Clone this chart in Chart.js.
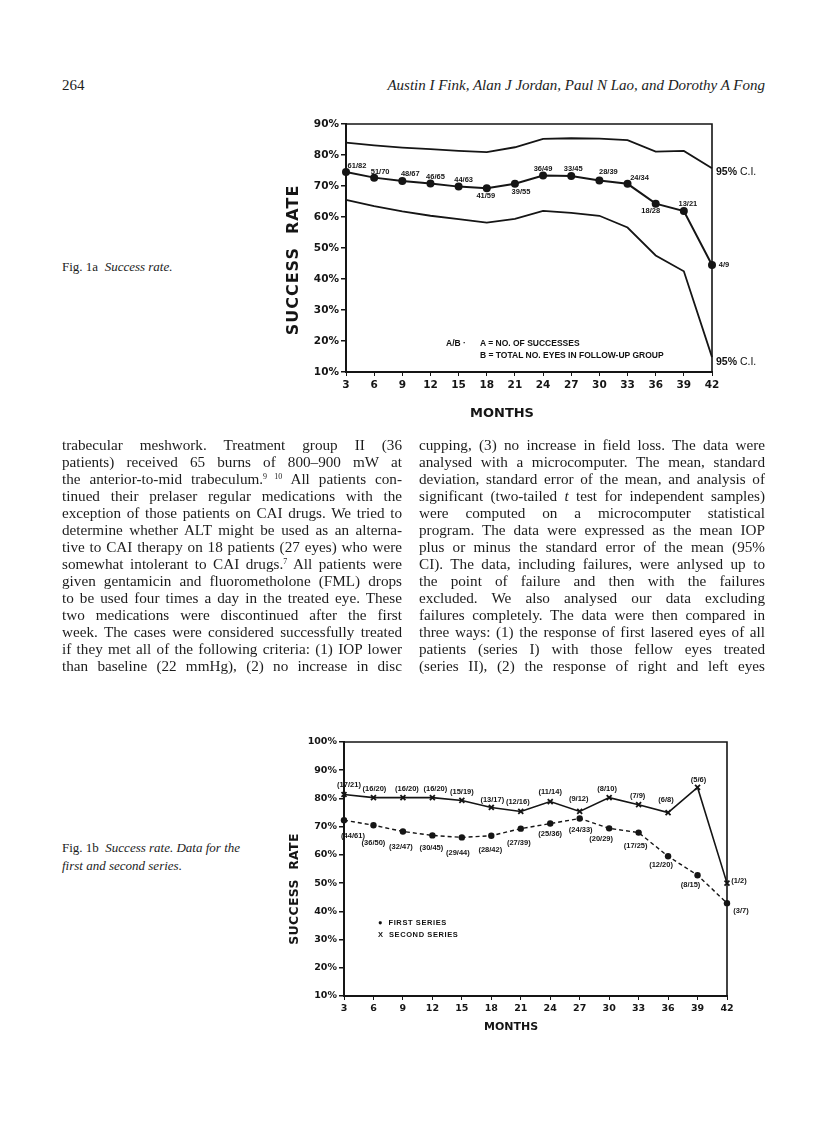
<!DOCTYPE html>
<html>
<head>
<meta charset="utf-8">
<script src="https://cdn.jsdelivr.net/npm/chart.js@4.4.0/dist/chart.umd.min.js"></script>
<style>
  body { margin: 0; background: #fff; width: 816px; height: 1135px; position: relative; overflow: hidden;
         font-family: "Liberation Serif", serif; color: #1c1c1c; }
  .abs { position: absolute; }
  .col { position: absolute; font-size: 15.2px; }
  .col div { height: 17px; line-height: 17px; overflow: hidden; text-align: justify; text-align-last: justify; }
  sup { font-size: 8px; line-height: 0; vertical-align: 5px; }
  .cap { font-size: 13px; line-height: 18px; }
  .lab { font-family: "Liberation Sans", sans-serif; font-weight: bold; color: #111; white-space: nowrap; }
  .axt { position: absolute; font-family: "DejaVu Sans", sans-serif; font-weight: bold; color: #151515; white-space: nowrap;
         transform: translate(-50%, -50%); }
  .axt.v { transform: translate(-50%, -50%) rotate(-90deg); }
  .chartbox { position: absolute; }
</style>
</head>
<body>

<div class="abs" style="left:62px;top:77px;font-size:15px;">264</div>
<div class="abs" style="right:51px;top:77px;font-size:15px;font-style:italic;">Austin I Fink, Alan J Jordan, Paul N Lao, and Dorothy A Fong</div>

<div class="abs cap" style="left:62px;top:258px;">Fig. 1a&nbsp;&nbsp;<i>Success rate.</i></div>
<div class="abs cap" style="left:62px;top:839px;">Fig. 1b&nbsp;&nbsp;<i>Success rate. Data for the<br>first and second series.</i></div>

<div class="chartbox" style="left:250px;top:110px;width:540px;height:320px;"><canvas id="fig1a"></canvas></div>
<div class="chartbox" style="left:250px;top:720px;width:540px;height:330px;"><canvas id="fig1b"></canvas></div>

<!-- axis titles -->
<div class="axt v" style="left:292px;top:260px;font-size:16px;letter-spacing:1px;">SUCCESS&nbsp; RATE</div>
<div class="axt" style="left:502px;top:412px;font-size:13px;">MONTHS</div>
<div class="axt v" style="left:293px;top:889px;font-size:12.5px;letter-spacing:0.3px;">SUCCESS&nbsp; RATE</div>
<div class="axt" style="left:511px;top:1026px;font-size:11px;">MONTHS</div>

<!-- fig 1a annotations -->
<div class="abs lab" style="left:716px;top:165px;font-size:10.5px;font-weight:normal;"><b>95%</b> C.I.</div>
<div class="abs lab" style="left:716px;top:355px;font-size:10.5px;font-weight:normal;"><b>95%</b> C.I.</div>
<div class="abs lab" style="left:446px;top:338px;font-size:8.5px;">A/B ·</div>
<div class="abs lab" style="left:480px;top:338px;font-size:8.5px;">A = NO. OF SUCCESSES</div>
<div class="abs lab" style="left:480px;top:350px;font-size:8.5px;">B = TOTAL NO. EYES IN FOLLOW-UP GROUP</div>

<!-- fig 1b legend -->
<div class="abs lab" style="left:378px;top:918px;font-size:7.5px;letter-spacing:0.6px;">●&nbsp; FIRST SERIES</div>
<div class="abs lab" style="left:378px;top:930px;font-size:7.5px;letter-spacing:0.6px;">X&nbsp; SECOND SERIES</div>

<div class="col" style="left:62px;top:436px;width:340px;">
  <div>trabecular meshwork. Treatment group II (36</div>
  <div>patients) received 65 burns of 800–900 mW at</div>
  <div>the anterior-to-mid trabeculum.<sup>9 10</sup> All patients con-</div>
  <div>tinued their prelaser regular medications with the</div>
  <div>exception of those patients on CAI drugs. We tried to</div>
  <div>determine whether ALT might be used as an alterna-</div>
  <div>tive to CAI therapy on 18 patients (27 eyes) who were</div>
  <div>somewhat intolerant to CAI drugs.<sup>7</sup> All patients were</div>
  <div>given gentamicin and fluorometholone (FML) drops</div>
  <div>to be used four times a day in the treated eye. These</div>
  <div>two medications were discontinued after the first</div>
  <div>week. The cases were considered successfully treated</div>
  <div>if they met all of the following criteria: (1) IOP lower</div>
  <div>than baseline (22 mmHg), (2) no increase in disc</div>
</div>

<div class="col" style="left:419px;top:436px;width:346px;">
  <div>cupping, (3) no increase in field loss. The data were</div>
  <div>analysed with a microcomputer. The mean, standard</div>
  <div>deviation, standard error of the mean, and analysis of</div>
  <div>significant (two-tailed <i>t</i> test for independent samples)</div>
  <div>were computed on a microcomputer statistical</div>
  <div>program. The data were expressed as the mean IOP</div>
  <div>plus or minus the standard error of the mean (95%</div>
  <div>CI). The data, including failures, were anlysed up to</div>
  <div>the point of failure and then with the failures</div>
  <div>excluded. We also analysed our data excluding</div>
  <div>failures completely. The data were then compared in</div>
  <div>three ways: (1) the response of first lasered eyes of all</div>
  <div>patients (series I) with those fellow eyes treated</div>
  <div>(series II), (2) the response of right and left eyes</div>
</div>

<script>
// months of follow-up (both figures)
const months = [3, 6, 9, 12, 15, 18, 21, 24, 27, 30, 33, 36, 39, 42];

// fig 1a: success rate (%) with 95% CI
const meanRate = [74.5, 72.7, 71.6, 70.8, 69.8, 69.3, 70.7, 73.4, 73.2, 71.8, 70.7, 64.3, 61.9, 44.5];
const upperCI = [84.0, 83.1, 82.4, 81.9, 81.3, 80.9, 82.5, 85.2, 85.4, 85.3, 84.8, 81.1, 81.3, 75.7];
const lowerCI = [65.5, 63.5, 61.8, 60.4, 59.3, 58.2, 59.4, 62.0, 61.3, 60.4, 56.6, 47.6, 42.5, 14.8];
const ratioA = ["61/82", "51/70", "48/67", "46/65", "44/63", "41/59", "39/55", "36/49", "33/45", "28/39", "24/34", "18/28", "13/21", "4/9"];
const yTicksA = [10, 20, 30, 40, 50, 60, 70, 80, 90];

// fig 1b: first and second series
const firstSeries = [72.3, 70.5, 68.3, 66.9, 66.2, 66.8, 69.3, 71.1, 72.9, 69.4, 67.9, 59.5, 52.8, 42.9];
const secondSeries = [81.4, 80.3, 80.3, 80.3, 79.3, 76.8, 75.4, 78.9, 75.4, 80.3, 77.8, 75.0, 83.9, 50.0];
const firstLabels = ["(44/61)", "(36/50)", "(32/47)", "(30/45)", "(29/44)", "(28/42)", "(27/39)", "(25/36)", "(24/33)", "(20/29)", "(17/25)", "(12/20)", "(8/15)", "(3/7)"];
const secondLabels = ["(17/21)", "(16/20)", "(16/20)", "(16/20)", "(15/19)", "(13/17)", "(12/16)", "(11/14)", "(9/12)", "(8/10)", "(7/9)", "(6/8)", "(5/6)", "(1/2)"];
const yTicksB = [10, 20, 30, 40, 50, 60, 70, 80, 90, 100];

// where each little label sits relative to its point (px)
const offsA = [[11,-6],[6,-6],[8,-7],[5,-7],[5,-7],[-1,8],[6,8],[0,-7],[2,-7],[9,-8],[12,-6],[-5,7],[4,-7],[12,0]];
const offsFirst = [[9,16],[0,18],[-2,15],[-1,13],[-4,16],[-1,14],[-2,14],[0,10],[1,11],[-8,11],[-3,13],[-7,9],[-7,10],[14,8]];
const offsSecond = [[5,-10],[1,-9],[4,-9],[3,-9],[0,-8],[1,-8],[-3,-9],[0,-10],[-1,-12],[-2,-9],[-1,-9],[-2,-13],[1,-8],[12,-2]];

const ink = "#151515";
const xy = (ys) => months.map((m, i) => ({ x: m, y: ys[i] }));

// top and right edge of the plot box
const frameBox = {
  id: "frameBox",
  afterDraw(chart) {
    const { left, top, right, bottom } = chart.chartArea;
    const ctx = chart.ctx;
    ctx.save();
    ctx.strokeStyle = ink;
    ctx.lineWidth = 1.6;
    ctx.beginPath();
    ctx.moveTo(left, top);
    ctx.lineTo(right, top);
    ctx.lineTo(right, bottom);
    ctx.stroke();
    ctx.restore();
  },
};

// ratio labels next to the points
const pointLabels = {
  id: "pointLabels",
  afterDatasetsDraw(chart, args, opts) {
    const ctx = chart.ctx;
    ctx.save();
    ctx.font = opts.font;
    ctx.fillStyle = ink;
    ctx.textAlign = "center";
    ctx.textBaseline = "middle";
    opts.sets.forEach((s) => {
      const meta = chart.getDatasetMeta(s.dataset);
      meta.data.forEach((pt, i) => {
        ctx.fillText(s.labels[i], pt.x + s.offsets[i][0], pt.y + s.offsets[i][1]);
      });
    });
    ctx.restore();
  },
};

// axis titles are placed as page text (they sit off-centre in the original)
function axes(o) {
  return {
    x: {
      type: "linear", min: 3, max: 42,
      afterBuildTicks: (s) => { s.ticks = months.map((v) => ({ value: v })); },
      ticks: { font: { family: "DejaVu Sans", weight: "bold", size: o.tick }, color: ink, padding: 3, autoSkip: false, maxRotation: 0,
               callback: (v) => String(v) },
      grid: { drawOnChartArea: false, tickLength: 4, color: ink },
      border: { color: ink, width: 2 },
      afterFit: (s) => { s.height = o.xHeight; },
    },
    y: {
      min: 10, max: o.yMax,
      afterBuildTicks: (s) => { s.ticks = o.yTicks.map((v) => ({ value: v })); },
      ticks: { font: { family: "DejaVu Sans", weight: "bold", size: o.tick }, color: ink, padding: 2, callback: (v) => v + "%" },
      grid: { drawOnChartArea: false, tickLength: 5, color: ink, lineWidth: 1.5 },
      border: { color: ink, width: 2 },
      afterFit: (s) => { s.width = o.yWidth; },
    },
  };
}

new Chart(document.getElementById("fig1a"), {
  type: "line",
  data: {
    datasets: [
      { data: xy(upperCI), borderColor: ink, borderWidth: 1.8, pointRadius: 0, clip: false },
      { data: xy(meanRate), borderColor: ink, borderWidth: 2, pointRadius: 4, pointBackgroundColor: ink, pointBorderWidth: 0, clip: false },
      { data: xy(lowerCI), borderColor: ink, borderWidth: 1.8, pointRadius: 0, clip: false },
    ],
  },
  options: {
    responsive: true,
    maintainAspectRatio: false,
    animation: false,
    layout: { padding: { top: 14, right: 78, left: 0, bottom: 0 } },
    plugins: {
      legend: { display: false },
      tooltip: { enabled: false },
      pointLabels: { font: "bold 7.5px 'Liberation Sans'", sets: [{ dataset: 1, labels: ratioA, offsets: offsA }] },
    },
    scales: axes({ tick: 10.5, xHeight: 58, yMax: 90, yTicks: yTicksA, yWidth: 96 }),
  },
  plugins: [frameBox, pointLabels],
});

new Chart(document.getElementById("fig1b"), {
  type: "line",
  data: {
    datasets: [
      { data: xy(secondSeries), borderColor: ink, borderWidth: 1.6, pointStyle: "crossRot", pointRadius: 3.5,
        pointBorderColor: ink, pointBorderWidth: 1.8, clip: false },
      { data: xy(firstSeries), borderColor: ink, borderWidth: 1.4, borderDash: [4, 3], pointRadius: 3.2,
        pointBackgroundColor: ink, pointBorderWidth: 0, clip: false },
    ],
  },
  options: {
    responsive: true,
    maintainAspectRatio: false,
    animation: false,
    layout: { padding: { top: 22, right: 63, left: 0, bottom: 0 } },
    plugins: {
      legend: { display: false },
      tooltip: { enabled: false },
      pointLabels: {
        font: "bold 7.5px 'Liberation Sans'",
        sets: [
          { dataset: 0, labels: secondLabels, offsets: offsSecond },
          { dataset: 1, labels: firstLabels, offsets: offsFirst },
        ],
      },
    },
    scales: axes({ tick: 9.5, xHeight: 54, yMax: 100, yTicks: yTicksB, yWidth: 94 }),
  },
  plugins: [frameBox, pointLabels],
});
</script>
</body>
</html>
